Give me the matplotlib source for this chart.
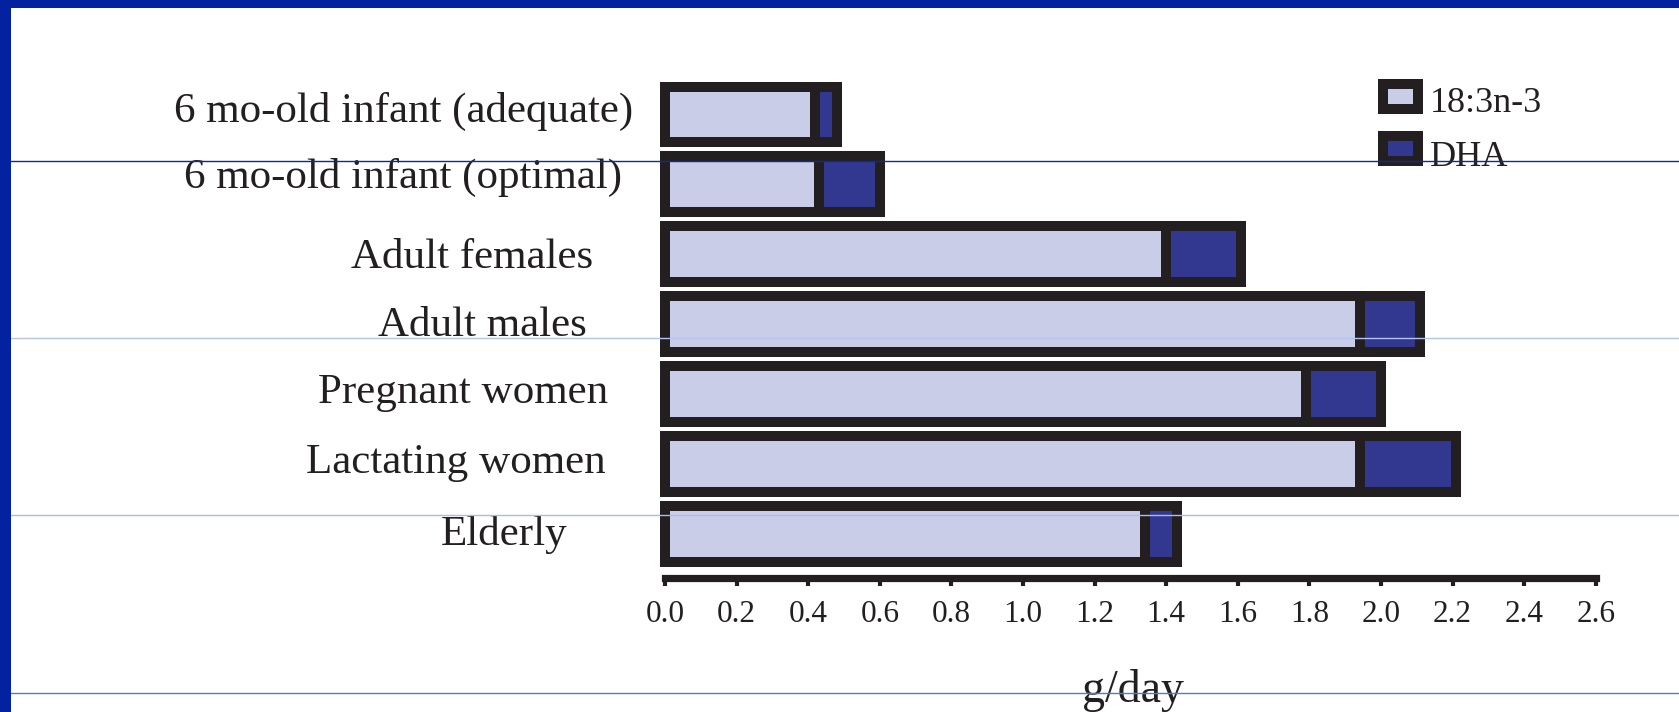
import matplotlib
matplotlib.use("Agg")
import matplotlib.pyplot as plt
from matplotlib.patches import Rectangle
from matplotlib.lines import Line2D
from matplotlib.transforms import blended_transform_factory, offset_copy

# ---------------- data ----------------
categories = ["6 mo-old infant (adequate)", "6 mo-old infant (optimal)",
              "Adult females", "Adult males", "Pregnant women",
              "Lactating women", "Elderly"]
series_names = ["18:3n-3", "DHA"]
ala = [0.42, 0.43, 1.40, 1.94, 1.79, 1.94, 1.34]
dha = [0.06, 0.17, 0.21, 0.17, 0.21, 0.27, 0.09]
xticks = [0.0, 0.2, 0.4, 0.6, 0.8, 1.0, 1.2, 1.4, 1.6, 1.8, 2.0, 2.2, 2.4, 2.6]
xlabel = "g/day"

# ---------------- layout / style ----------------
W, H = 1679, 712
EDGE = "#231f20"
LIGHT = "#c9cde8"
DARK = "#32378f"
FRAME = "#0222a0"
SERIF = ["Liberation Serif", "DejaVu Serif"]

label_right_px = [633, 622, 593, 587, 608, 606, 567]   # right edge of each label
label_base_dy = [7, 4, 14, 12, 9, 9, 11]                # baseline below bar centre (px)

fig = plt.figure(figsize=(W / 100, H / 100), dpi=100)
fig.patch.set_facecolor("white")

x0, x1 = 665, 665 + 2.6 * 358
ax_top, ax_bot = 70.5, 578
ax = fig.add_axes([x0 / W, 1 - ax_bot / H, (x1 - x0) / W, (ax_bot - ax_top) / H])
ax.set_facecolor("none")

pos = list(range(len(categories)))
bar_kw = dict(height=0.8, edgecolor=EDGE, linewidth=7.2, clip_on=False)
ax.barh(pos, ala, color=LIGHT, **bar_kw)
ax.barh(pos, dha, left=ala, color=DARK, **bar_kw)

ax.set_xlim(0, 2.6)
ax.set_ylim(6.631, -0.629)
ax.set_xticks(xticks)
ax.set_xticklabels([f"{t:.1f}" for t in xticks], fontfamily=SERIF, fontsize=22.5, color=EDGE)
ax.tick_params(axis="x", direction="out", length=5.5, width=3, color=EDGE, pad=10)
ax.set_yticks([])
for s in ("left", "right", "top"):
    ax.spines[s].set_visible(False)
ax.spines["bottom"].set_linewidth(5.2)
ax.spines["bottom"].set_color(EDGE)

# category labels
base = blended_transform_factory(fig.transFigure, ax.transData)
for i, (lab, rx, dy) in enumerate(zip(categories, label_right_px, label_base_dy)):
    tr = offset_copy(base, fig=fig, x=0, y=-dy, units="dots")
    ax.text(rx / W, i, lab, transform=tr, ha="right", va="baseline",
            fontfamily=SERIF, fontsize=31, color=EDGE, clip_on=False)

# x label
fig.text(1133 / W, 1 - 702 / H, xlabel, ha="center", va="baseline",
         fontfamily=SERIF, fontsize=33, color=EDGE)

# legend (manual)
leg_boxes = [(1382.7, 84.0), (1382.7, 136.5)]
leg_base = [111.5, 166]
for (bx, by), name, col, yb in zip(leg_boxes, series_names, [LIGHT, DARK], leg_base):
    fig.add_artist(Rectangle((bx / W, 1 - (by + 24.5) / H), 35 / W, 24.5 / H,
                             transform=fig.transFigure, facecolor=col,
                             edgecolor=EDGE, linewidth=7.2))
    fig.text(1429.5 / W, 1 - yb / H, name, ha="left", va="baseline",
             fontfamily=SERIF, fontsize=26, color=EDGE)

# slide decoration: horizontal guide lines and blue frame
for yy, c in zip([160.7, 338.3, 515, 692.5], ["#0b2a9c", "#b3c3f3", "#a9bbf2", "#5078e0"]):
    fig.add_artist(Line2D([11 / W, 1], [1 - yy / H] * 2, transform=fig.transFigure,
                          color=c, lw=1.0, zorder=10))
fig.add_artist(Rectangle((0, 1 - 7.5 / H), 1, 7.5 / H, transform=fig.transFigure,
                         facecolor=FRAME, edgecolor="none", zorder=11))
fig.add_artist(Rectangle((0, 0), 11 / W, 1, transform=fig.transFigure,
                         facecolor=FRAME, edgecolor="none", zorder=11))

fig.savefig("out.png", dpi=100, facecolor="white")
